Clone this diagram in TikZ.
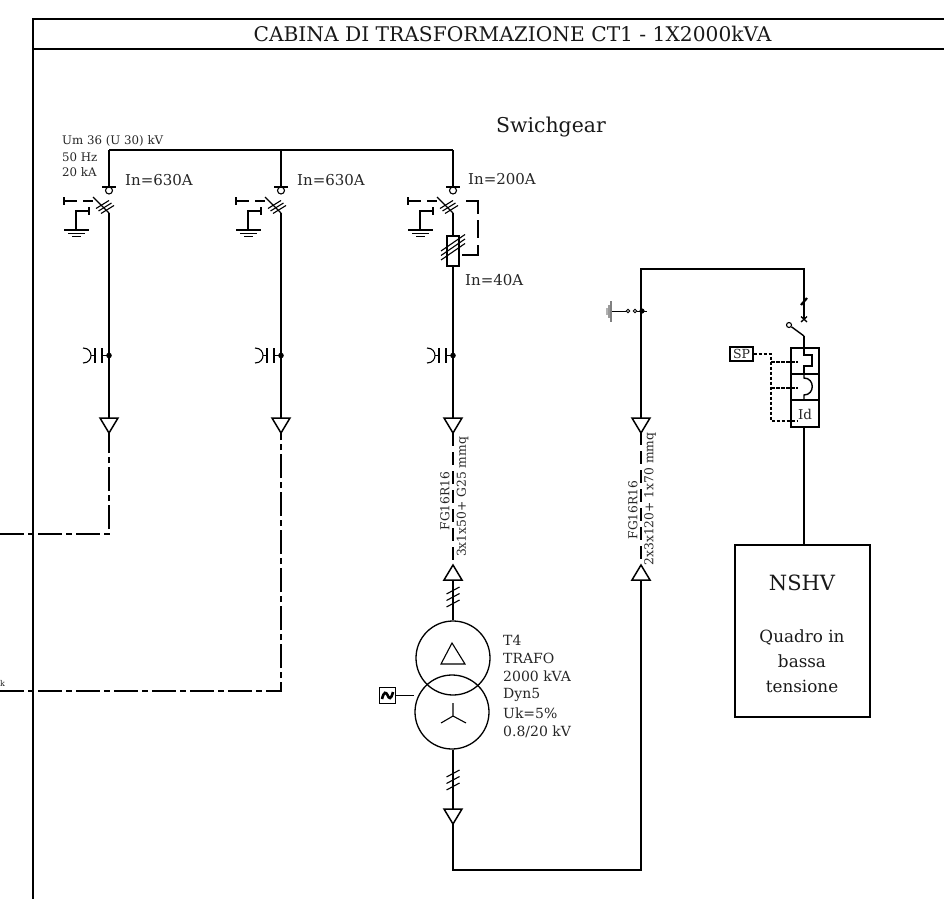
\documentclass[tikz,border=0pt]{standalone}
\usepackage{fontspec}
\setmainfont{DejaVu Serif}
\tikzset{
 x=1pt,y=-1pt,
 wire/.style={line width=1.4pt,line cap=butt},
 thin wire/.style={line width=1.1pt},
 frame/.style={line width=1.9pt},
 linkdash/.style={line width=1.1pt,dash pattern=on 3.5pt off 1.5pt},
 dashdot/.style={line width=1.5pt,dash pattern=on 24pt off 4pt on 6pt off 4pt},
 longdash/.style={line width=1.4pt,dash pattern=on 13pt off 6pt},
 tri/.style={line width=1.5pt,fill=white,line join=miter},
 lbl/.style={inner sep=0pt,text=black!85,font=\fontsize{15}{17}\selectfont},
 smalllbl/.style={inner sep=0pt,anchor=west,text=black!85,font=\fontsize{11.8}{13}\selectfont},
 cablelbl/.style={inner sep=0pt,rotate=90,text=black!85,font=\fontsize{12.3}{14}\selectfont},
 trlbl/.style={inner sep=0pt,anchor=west,text=black!85,font=\fontsize{14}{16}\selectfont},
 big/.style={inner sep=0pt,text=black!90,font=\fontsize{16.8}{19}\selectfont},
 hatch/.style={line width=1.1pt},
 bayunit/.pic={
  % fork and isolating contact
  \draw[thin wire] (-7,0) -- (7,0);
  \draw[thin wire] (0,3.5) circle (3.5);
  % switch blade
  \draw[thin wire] (-16,10) -- (0,26);
  \draw[hatch] (-13,21.5) -- (0,13.5) (-10.5,24) -- (2.5,16) (-8,26.5) -- (5,18.5);
  % left contact
  \draw[thin wire] (-45,10) -- (-45,18) (-45,14) -- (-32,14) (-26,14) -- (-16,14);
  % earth
  \draw[thin wire] (-33,43) -- (-33,24) -- (-20,24) (-20,20) -- (-20,28);
  \draw[thin wire] (-45,43) -- (-20,43) (-41,46.5) -- (-24,46.5);
  \draw[line width=1.3pt] (-37,49.5) -- (-28,49.5);
 },
 ctunit/.pic={
  \draw[thin wire] (-26,-7.5) .. controls (-20,-7.5) and (-18,-3) .. (-18,0) .. controls (-18,3) and (-20,7.5) .. (-26,7.5);
  \draw[thin wire] (-18,0) -- (-14,0) (-14,-7.5) -- (-14,7.5);
  \draw[thin wire] (-7,-7.5) -- (-7,7.5) (-7,0) -- (0,0);
  \fill (0,0) circle (2.8);
 },
 downtri/.pic={\draw[tri] (-9,0) -- (9,0) -- (0,15) -- cycle;},
 uptri/.pic={\draw[tri] (-9,0) -- (9,0) -- (0,-15) -- cycle;},
 hash3/.pic={\draw[hatch] (-6.5,-3) -- (6.5,-10) (-6.5,3.5) -- (6.5,-3.5) (-6.5,10) -- (6.5,3);},
}
\begin{document}
\begin{tikzpicture}
\useasboundingbox (0,0) rectangle (944,899);
% frame
\coordinate (ftl) at (33,19); \coordinate (ftr) at (944,19);
\coordinate (fml) at (33,49); \coordinate (fmr) at (944,49);
\coordinate (fbl) at (33,899);
\draw[frame] (ftr) -- (ftl) -- (fbl);
\draw[frame] (fml) -- (fmr);
\node[big,font=\fontsize{20.2}{22}\selectfont] (title) at (512.5,34) {CABINA DI TRASFORMAZIONE CT1 - 1X2000kVA};
\node[big,font=\fontsize{20.4}{22}\selectfont] (swg) at (551,127) {Swichgear};
% busbar
\coordinate (b1) at (109,150); \coordinate (b2) at (281,150); \coordinate (b3) at (453,150);
\coordinate (f1) at (109,187); \coordinate (f2) at (281,187); \coordinate (f3) at (453,187);
\draw[wire] (b1) -- (b3);
\draw[wire] (b1) -- (f1); \draw[wire] (b2) -- (f2); \draw[wire] (b3) -- (f3);
\node[smalllbl] (um) at (62,141) {Um 36 (U 30) kV};
\node[smalllbl] (hz) at (62,157) {50 Hz};
\node[smalllbl] (ka) at (62,172.5) {20 kA};
\pic at (f1) {bayunit}; \pic at (f2) {bayunit}; \pic at (f3) {bayunit};
\node[lbl,anchor=west] (i1) at (125,180) {In=630A};
\node[lbl,anchor=west] (i2) at (297,180) {In=630A};
\node[lbl,anchor=west] (i3) at (468,179) {In=200A};
\node[lbl,anchor=west] (i4) at (465,280) {In=40A};
% vertical feeders to cable terminals
\coordinate (s1) at (109,213); \coordinate (s2) at (281,213); \coordinate (s3) at (453,213);
\coordinate (t1) at (109,418); \coordinate (t2) at (281,418); \coordinate (t3) at (453,418);
\draw[wire] (s1) -- (t1); \draw[wire] (s2) -- (t2); \draw[wire] (s3) -- (t3);
\pic at (109,355.5) {ctunit}; \pic at (281,355.5) {ctunit}; \pic at (453,355.5) {ctunit};
\pic at (t1) {downtri}; \pic at (t2) {downtri}; \pic at (t3) {downtri};
% dash-dot cables
\coordinate (a1) at (109,433); \coordinate (a2) at (281,433);
\coordinate (e1) at (0,534); \coordinate (e2) at (0,691);
\draw[dashdot] (e1) -| (a1);
\draw[dashdot] (e2) -| (a2);
\node[inner sep=0pt,anchor=west,text=black!85,font=\fontsize{8}{9}\selectfont] (cutk) at (0,683) {k};
% fuse
\draw[wire,fill=white] (447,236) rectangle (459,266);
\draw[hatch] (441,251) -- (465,234.5) (441,255.5) -- (465,239) (441,260) -- (465,243.5);
\draw[line width=1.2pt] (466,201) -- (478,201) -- (478,214) (478,220) -- (478,238) (478,245) -- (478,255) -- (462,255);
% cable 1
\coordinate (a3) at (453,433); \coordinate (u3) at (453,580);
\draw[longdash] (a3) -- (453,565);
\pic at (u3) {uptri};
\node[cablelbl] (c1a) at (445,501) {FG16R16};
\node[cablelbl] (c1b) at (462.5,497) {3x1x50+ G25 mmq};
% transformer
\node[circle,draw,line width=1.3pt,minimum size=74pt,inner sep=0pt] (trU) at (453,658) {};
\node[circle,draw,line width=1.3pt,minimum size=74pt,inner sep=0pt] (trL) at (452,712) {};
\draw[wire] (u3) -- (trU.north);
\pic at (453,597) {hash3};
\draw[thin wire,line join=miter] (452,643) -- (465,664) -- (441,664) -- cycle;
\coordinate (star) at (453,716);
\draw[thin wire] (star) -- (453,703) (star) -- (441,723) (star) -- (466,723);
\node[trlbl] (tt1) at (503,640) {T4};
\node[trlbl] (tt2) at (503,658) {TRAFO};
\node[trlbl] (tt3) at (503,676.5) {2000 kVA};
\node[trlbl] (tt4) at (503,695) {Dyn5};
\node[trlbl] (tt5) at (503,713.5) {Uk=5\%};
\node[trlbl] (tt6) at (503,732) {0.8/20 kV};
% tap changer
\node[draw,line width=1.5pt,minimum size=16pt,inner sep=0pt] (gen) at (387.5,695.5) {};
\draw[line width=2.6pt] (382,699) .. controls (384,691) and (386,692) .. (387.5,695) .. controls (389,699) and (391,700) .. (393,692);
\draw[wire] (gen.east) -- (trL.west |- gen.east);
% lower feeder
\coordinate (d3) at (453,809); \coordinate (d3a) at (453,823);
\draw[wire] (trL.south -| d3) -- (d3);
\pic at (453,780) {hash3};
\pic at (d3) {downtri};
\coordinate (bl) at (453,870); \coordinate (br) at (641,870);
\coordinate (u4) at (641,580);
\draw[wire] (d3a) -- (bl) -- (br) -- (u4);
\pic at (u4) {uptri};
\coordinate (a4) at (641,432); \coordinate (t4) at (641,418);
\draw[longdash] (a4) -- (641,565);
\pic at (t4) {downtri};
\node[cablelbl] (c2a) at (633,510) {FG16R16};
\node[cablelbl] (c2b) at (650,499) {2x3x120+ 1x70 mmq};
% upper link to breaker
\coordinate (tl) at (641,269); \coordinate (tr) at (804,269); \coordinate (xm) at (804,319);
\draw[wire] (t4) -- (tl) -- (tr) -- (xm);
\draw[line width=2.2pt] (801,305) -- (807,298);
\draw[line width=1.3pt] (801,316.5) -- (807,322) (807,316.5) -- (801,322);
% earth branch
\coordinate (ej) at (642,311);
\node[circle,draw,inner sep=0pt,minimum size=3.5pt,line width=.9pt] (ec1) at (628,311) {};
\node[circle,draw,inner sep=0pt,minimum size=3.5pt,line width=.9pt] (ec2) at (635,311) {};
\coordinate (eg) at (611,311);
\draw[line width=1pt] (eg) -- (ec1);
\draw[line width=1pt] (ec2) -- (647,311);
\fill (ej) circle (2.6);
\fill[gray] (609.5,301) rectangle (611.5,322);
\fill[gray!80] (607.5,305) rectangle (609.5,318);
\fill[gray!60] (605.5,308) rectangle (607.5,315);
% breaker
\node[circle,draw,inner sep=0pt,minimum size=5pt,line width=1.1pt] (bc) at (789,325) {};
\coordinate (bp) at (804,336);
\draw[wire] (bc) -- (bp);
\coordinate (boxTop) at (804,348);
\draw[wire] (bp) -- (boxTop);
\draw[wire] (791,348) rectangle (819,427);
\draw[wire] (791,374) -- (819,374) (791,400) -- (819,400);
\draw[wire] (boxTop) -- (804,355) -- (812,355) -- (812,366) -- (804,366) -- (804,374);
\draw[wire] (804,374) -- (804,378) .. controls (815,378) and (815,395) .. (804,395) -- (804,400);
\node[inner sep=0pt,text=black!85,font=\fontsize{13.5}{15}\selectfont] (id) at (805,414) {Id};
\node[draw,line width=1.2pt,inner sep=0pt,minimum width=23pt,minimum height=14pt,text=black!85,font=\fontsize{12.5}{14}\selectfont] (sp) at (741.5,354) {SP};
\coordinate (sj) at (771,354);
\draw[linkdash] (sp.east) -- (sj) -- (771,421) -- (797,421);
\draw[linkdash] (771,362) -- (798,362) (771,388) -- (798,388);
% NSHV
\node[draw,line width=1.4pt,minimum width=135pt,minimum height=172pt,inner sep=0pt] (nshv) at (802.5,631) {};
\draw[wire] (804,427) -- (804,545);
\node[big,font=\fontsize{21}{23}\selectfont] (n1) at (802,583) {NSHV};
\node[big] (n2) at (802,637) {Quadro in};
\node[big] (n3) at (802,661) {bassa};
\node[big] (n4) at (802,686) {tensione};
\end{tikzpicture}
\end{document}
